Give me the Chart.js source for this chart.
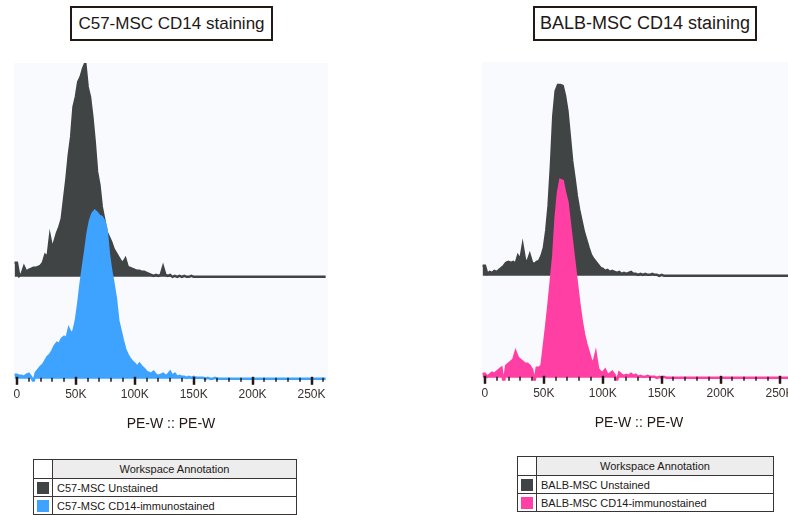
<!DOCTYPE html>
<html>
<head>
<meta charset="utf-8">
<script src="https://cdn.jsdelivr.net/npm/chart.js@4.4.1/dist/chart.umd.min.js"></script>
<style>
  body { margin: 0; width: 788px; height: 515px; overflow: hidden; position: relative; background: #fff;
         font-family: "Liberation Sans", Arial, sans-serif; color: #231815; }
  .title { position: absolute; top: 6px; height: 31px; border: 2px solid #231815; background: #fff;
           text-align: center; line-height: 31px; white-space: nowrap; }
  canvas { position: absolute; }
  table.ann { position: absolute; border-collapse: collapse; font-size: 11px; background: #fff; }
  table.ann td { border: 1px solid #3b3434; padding: 0 4px; white-space: nowrap; }
  table.ann td.sw { padding: 0; width: 18px; text-align: center; }
  table.ann .hd { background: #ededed; text-align: center; }
  .box { display: inline-block; width: 12px; height: 12px; vertical-align: middle; }
</style>
</head>
<body>
<div class="title" style="left:70px; width:199px; font-size:17px;">C57-MSC CD14 staining</div>
<div class="title" style="left:533px; width:220px; font-size:18px;">BALB-MSC CD14 staining</div>
<canvas id="c57" width="340" height="437" style="left:0; top:0;"></canvas>
<canvas id="balb" width="340" height="437" style="left:468px; top:-1px;"></canvas>
<table class="ann" id="legC57" style="left:33px; top:459px; width:264px;"></table>
<table class="ann" id="legBalb" style="left:517px; top:456px; width:257px;"></table>
<script>
// bins are 2K wide, first bin centred at -2K
const binStart = -2000;
const binWidth = 2000;

const majorTicks = [0, 50000, 100000, 150000, 200000, 250000];
const tickLabels = ['0', '50K', '100K', '150K', '200K', '250K'];
const minorTicks = [10000, 20000, 30000, 40000, 60000, 70000, 80000, 90000, 110000, 120000, 130000, 140000,
                    160000, 170000, 180000, 190000, 210000, 220000, 230000, 240000, 260000];

const c57Names = ['C57-MSC Unstained', 'C57-MSC CD14-immunostained'];
const balbNames = ['BALB-MSC Unstained', 'BALB-MSC CD14-immunostained'];

const c57Unstained = [
  14, 14, 1, 3, 10, 5, 7, 8, 9, 9,
  10, 11, 14, 22, 20, 40, 28, 36, 44, 50,
  58, 78, 98, 122, 140, 170, 180, 195, 200, 208,
  214, 190, 180, 160, 135, 105, 92, 70, 58, 45,
  40, 35, 28, 24, 20, 16, 14, 18, 10, 9,
  8, 7, 6, 6, 5, 5, 4, 3, 2, 1,
  2, 1, 2, 10, 2, 1, 2, 0, 1, 0,
  1, 0, 1, 0, 0, 1, 0, 0, 0, 0,
  0, 0, 0, 0, 0, 0, 0, 0, 0, 0,
  0, 0, 0, 0, 0, 0, 0, 0, 0, 0,
  0, 0, 0, 0, 0, 0, 0, 0, 0, 0,
  0, 0, 0, 0, 0, 0, 0, 0, 0, 0,
  0, 0, 0, 0, 0, 0, 0, 0, 0, 0,
  0, 0, 0
];
const c57Stained = [
  4, 4, 3, 3, 2, 4, 5, 2, -3, 6,
  9, 12, 14, 18, 22, 24, 28, 33, 36, 35,
  40, 42, 40, 50, 45, 48, 58, 75, 95, 112,
  128, 146, 158, 165, 168, 166, 163, 162, 158, 150,
  125, 108, 95, 80, 58, 48, 38, 29, 24, 20,
  17, 15, 12, 15, 12, 10, 7, 6, 5, 7,
  4, 3, 4, 5, 3, 4, 7, 3, 5, 2,
  3, 2, 2, 1, 2, 1, 2, 1, 1, 1,
  1, 0, 1, 0, 0, 1, 0, 0, 0, 0,
  0, 0, 0, 0, 0, 0, 0, 0, 0, 0,
  0, 0, 0, 0, 0, 0, 0, 0, 0, 0,
  0, 0, 0, 0, 0, 0, 0, 0, 0, 0,
  0, 0, 0, 0, 0, 0, 0, 0, 0, 0,
  0, 0, 0
];
const balbUnstained = [
  10, 10, 2, 4, 3, 5, 4, 6, 8, 10,
  13, 14, 13, 14, 12, 20, 16, 30, 16, 14,
  21, 13, 12, 14, 15, 20, 28, 45, 70, 110,
  160, 185, 191, 191, 190, 180, 165, 140, 115, 98,
  80, 66, 55, 44, 36, 28, 21, 17, 14, 11,
  8, 7, 5, 6, 4, 5, 4, 3, 4, 2,
  3, 2, 3, 4, 2, 2, 1, 2, 1, 2,
  1, 1, 2, 1, 1, 0, 1, 0, 0, 0,
  0, 0, 0, 0, 0, 0, 0, 0, 0, 0,
  0, 0, 0, 0, 0, 0, 0, 0, 0, 0,
  0, 0, 0, 0, 0, 0, 0, 0, 0, 0,
  0, 0, 0, 0, 0, 0, 0, 0, 0, 0,
  0, 0, 0, 0, 0, 0, 0, 0, 0, 0,
  0, 0, 0
];
const balbStained = [
  4, 4, 1, 3, 5, 4, 6, 8, 10, -6,
  12, 14, 16, 18, 26, 20, 18, 16, 14, 14,
  12, 8, -4, 10, 10, 12, 32, 52, 74, 98,
  122, 160, 185, 198, 197, 185, 176, 155, 135, 115,
  95, 75, 58, 44, 34, 26, 18, 14, 24, 9,
  6, 5, 8, 3, 4, 6, 3, -3, 5, 3,
  2, 3, 2, 4, 2, 3, 1, 2, 1, 1,
  2, 1, 1, 1, 0, 1, 0, 1, 0, 0,
  0, 0, 0, 0, 0, 0, 0, 0, 0, 0,
  0, 0, 0, 0, 0, 0, 0, 0, 0, 0,
  0, 0, 0, 0, 0, 0, 0, 0, 0, 0,
  0, 0, 0, 0, 0, 0, 0, 0, 0, 0,
  0, 0, 0, 0, 0, 0, 0, 0, 0, 0,
  0, 0, 0
];

const DARK = '#404445';
const BLUE = '#3ea3ff';
const PINK = '#ff3fa3';
const OFFSET = 102;   // staggered baseline for the unstained sample

function toPoints(vals, shift) {
  return vals.map((v, i) => ({ x: binStart + i * binWidth, y: v + shift }));
}

const plotBg = {
  id: 'plotBg',
  beforeDraw(chart) {
    const { ctx, chartArea: a } = chart;
    ctx.save();
    ctx.fillStyle = '#f9fafe';
    ctx.fillRect(a.left, a.top, a.right - a.left, a.bottom - a.top);
    ctx.restore();
  }
};

// flowjo style ticks sitting on the lower baseline
const flowTicks = {
  id: 'flowTicks',
  afterDatasetsDraw(chart) {
    const { ctx, scales: { x, y } } = chart;
    const base = y.getPixelForValue(0);
    ctx.save();
    ctx.strokeStyle = '#231815';
    ctx.lineWidth = 1.5;
    minorTicks.forEach(v => {
      const px = Math.round(x.getPixelForValue(v));
      ctx.beginPath(); ctx.moveTo(px, base - 1); ctx.lineTo(px, base + 3); ctx.stroke();
    });
    ctx.lineWidth = 2.5;
    majorTicks.forEach(v => {
      const px = Math.round(x.getPixelForValue(v));
      ctx.beginPath(); ctx.moveTo(px, base - 2); ctx.lineTo(px, base + 6); ctx.stroke();
    });
    ctx.restore();
  }
};

function makeChart(id, unstained, stained, color) {
  new Chart(document.getElementById(id), {
    type: 'line',
    data: {
      datasets: [{
        data: toPoints(stained, 0),
        borderColor: color,
        backgroundColor: color,
        borderWidth: 2.5,
        fill: { value: 0 }
      }, {
        data: toPoints(unstained, OFFSET),
        borderColor: DARK,
        backgroundColor: DARK,
        borderWidth: 2.5,
        fill: { value: OFFSET }
      }]
    },
    options: {
      responsive: false,
      animation: false,
      devicePixelRatio: 1,
      layout: { padding: { left: 14, right: 12, top: 63, bottom: 0 } },
      elements: { point: { radius: 0 }, line: { tension: 0 } },
      plugins: { legend: { display: false }, tooltip: { enabled: false } },
      scales: {
        x: {
          type: 'linear',
          min: -2500,
          max: 264000,
          afterBuildTicks: s => { s.ticks = majorTicks.concat(minorTicks).sort((a, b) => a - b).map(v => ({ value: v })); },
          grid: { display: false, drawTicks: false },
          border: { display: false },
          ticks: {
            autoSkip: false,
            maxRotation: 0,
            padding: 6,
            color: '#3a3030',
            font: { family: 'Liberation Sans', size: 12 },
            callback: v => { const k = majorTicks.indexOf(v); return k >= 0 ? tickLabels[k] : ''; }
          },
          title: {
            display: true,
            text: 'PE-W :: PE-W',
            color: '#231815',
            font: { family: 'Liberation Sans', size: 14 },
            padding: { top: 8, bottom: 4 }
          }
        },
        y: { display: false, min: -3, max: 316 }
      }
    },
    plugins: [plotBg, flowTicks]
  });
}

makeChart('c57', c57Unstained, c57Stained, BLUE);
makeChart('balb', balbUnstained, balbStained, PINK);

function makeLegend(id, names, colors) {
  const t = document.getElementById(id);
  let html = '<tr style="height:19px"><td class="sw"></td><td class="hd">Workspace Annotation</td></tr>';
  names.forEach((n, i) => {
    html += '<tr style="height:18px"><td class="sw"><span class="box" style="background:' + colors[i] + '"></span></td><td>' + n + '</td></tr>';
  });
  t.innerHTML = html;
}
makeLegend('legC57', c57Names, [DARK, BLUE]);
makeLegend('legBalb', balbNames, [DARK, PINK]);
</script>
</body>
</html>
